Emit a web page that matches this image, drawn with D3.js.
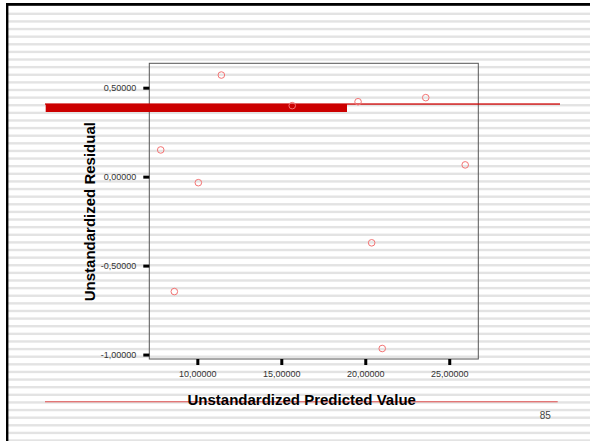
<!DOCTYPE html>
<html>
<head>
<meta charset="utf-8">
<script src="https://cdn.jsdelivr.net/npm/d3@7"></script>
<style>
  html, body { margin: 0; padding: 0; background: #fff; }
  svg { display: block; font-family: "Liberation Sans", Arial, sans-serif; }
</style>
</head>
<body>
<div id="chart"></div>
<script>
"use strict";
// valeurs
const predicted = [11.43, 15.65, 7.82, 10.06, 19.57, 23.60, 25.95, 20.38, 21.01, 8.63];
const residuals = [0.571, 0.399, 0.150, -0.034, 0.421, 0.444, 0.066, -0.372, -0.966, -0.646];
const xTicks = [10, 15, 20, 25];
const yTicks = [0.5, 0, -0.5, -1];
const xTitle = "Unstandardized Predicted Value";
const yTitle = "Unstandardized Residual";
const pageNum = "85";

const W = 590, H = 441;
const box = {left: 149.3, top: 63.3, right: 478.3, bottom: 359};

const svg = d3.select("#chart").append("svg")
    .attr("width", W).attr("height", H);

// fond rayé de la diapo
const stripes = d3.range(0, 58).map(i => 12.6 + i * 7.62);
svg.append("g").selectAll("rect").data(stripes).enter().append("rect")
    .attr("x", 8).attr("y", d => d).attr("width", W - 8).attr("height", 2.4)
    .attr("fill", "#e3e3e3");

// bordure haut + gauche
svg.append("rect").attr("x", 6).attr("y", 3).attr("width", W - 6).attr("height", 2.8).attr("fill", "#000");
svg.append("rect").attr("x", 6).attr("y", 3).attr("width", 2.4).attr("height", H - 3).attr("fill", "#000");

const x = d3.scaleLinear().domain([7.14, 26.73]).range([box.left, box.right]);
const y = d3.scaleLinear().domain([-1.025, 0.637]).range([box.bottom, box.top]);
const fmt = d => d3.format(".5f")(d).replace(".", ",").replace("−", "-");

// cadre du graphique
svg.append("rect")
    .attr("x", box.left).attr("y", box.top)
    .attr("width", box.right - box.left).attr("height", box.bottom - box.top)
    .attr("fill", "none").attr("stroke", "#555").attr("stroke-width", 1);

const gy = svg.append("g").attr("transform", `translate(${box.left},0)`)
    .call(d3.axisLeft(y).tickValues(yTicks).tickFormat(fmt).tickSize(6).tickPadding(7));
const gx = svg.append("g").attr("transform", `translate(0,${box.bottom})`)
    .call(d3.axisBottom(x).tickValues(xTicks).tickFormat(fmt).tickSize(6).tickPadding(6));
[gx, gy].forEach(g => {
    g.select(".domain").remove();
    g.selectAll(".tick line").attr("stroke", "#000").attr("stroke-width", 3);
    g.selectAll(".tick text").attr("fill", "#333").attr("font-size", "9px")
        .attr("font-family", "Liberation Sans, Arial, sans-serif");
});

// lignes rouges du modèle de diapo
svg.append("rect").attr("x", 45).attr("y", 103.4).attr("width", 515).attr("height", 1.3).attr("fill", "#cc0000");
svg.append("rect").attr("x", 45.7).attr("y", 104).attr("width", 301.3).attr("height", 8).attr("fill", "#cc0000");
svg.append("rect").attr("x", 45).attr("y", 401.2).attr("width", 512.7).attr("height", 1.1).attr("fill", "#e05a5a");

// points
svg.append("g").selectAll("circle").data(predicted).enter().append("circle")
    .attr("cx", d => x(d))
    .attr("cy", (d, i) => y(residuals[i]))
    .attr("r", 3.3)
    .attr("fill", "none").attr("stroke", "#f37373").attr("stroke-width", 1);

// titres
svg.append("text")
    .attr("x", 301.7).attr("y", 404.5)
    .attr("text-anchor", "middle").attr("font-size", "15px").attr("font-weight", "bold")
    .attr("fill", "#000").text(xTitle);
svg.append("text")
    .attr("transform", "translate(95,211.7) rotate(-90)")
    .attr("text-anchor", "middle").attr("font-size", "15px").attr("font-weight", "bold")
    .attr("fill", "#000").text(yTitle);

svg.append("text")
    .attr("x", 545.3).attr("y", 418.7)
    .attr("text-anchor", "middle").attr("font-size", "10px")
    .attr("fill", "#444").text(pageNum);
</script>
</body>
</html>
